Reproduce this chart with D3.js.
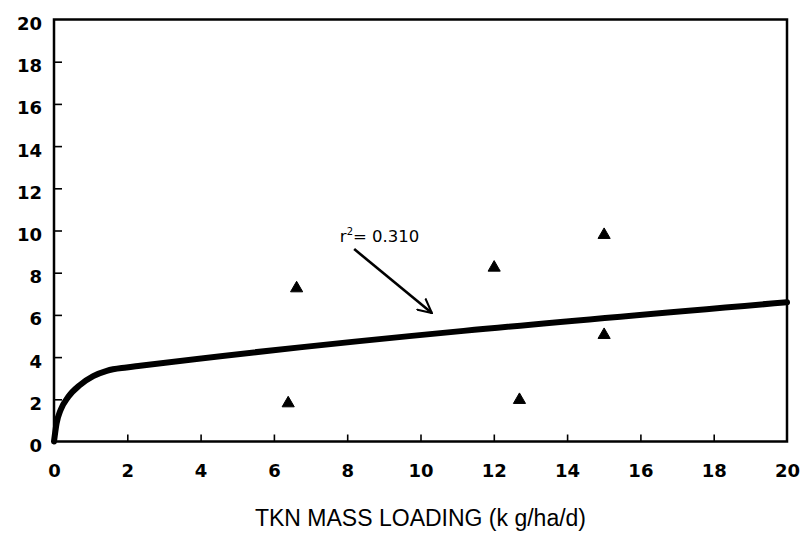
<!DOCTYPE html>
<html>
<head>
<meta charset="utf-8">
<script src="https://cdn.jsdelivr.net/npm/d3@7"></script>
<style>
  html, body { margin: 0; padding: 0; background: #fff; }
  svg { display: block; }
</style>
</head>
<body>
<div id="chart"></div>
<script>
  'use strict';

  // tick values on both axes
  const xTicks = [0, 2, 4, 6, 8, 10, 12, 14, 16, 18, 20];
  const yTicks = [0, 2, 4, 6, 8, 10, 12, 14, 16, 18, 20];

  const pointX = [6.39, 6.62, 12.01, 12.70, 15.01, 15.01];
  const pointY = [1.81, 7.26, 8.24, 1.97, 9.79, 5.05];

  // fitted curve
  const curveX = [0, 0.07, 0.18, 0.39, 0.71, 1.07, 1.44, 1.98, 2.35, 20];
  const curveY = [0, 0.86, 1.49, 2.12, 2.68, 3.10, 3.35, 3.51, 3.59, 6.60];

  // annotation
  const labelPos = [7.80, 9.45];
  const arrowFrom = [8.19, 9.12];
  const arrowTo = [10.31, 6.09];
  const rValue = '0.310';
  const xTitle = 'TKN MASS LOADING (k g/ha/d)';

  const width = 804;
  const height = 533;
  const margin = { top: 19.5, right: 17, bottom: 91.5, left: 54 };
  const innerW = width - margin.left - margin.right;
  const innerH = height - margin.top - margin.bottom;

  const svg = d3.select('#chart')
    .append('svg')
    .attr('width', width)
    .attr('height', height);

  const g = svg.append('g')
    .attr('transform', `translate(${margin.left},${margin.top})`);

  const x = d3.scaleLinear().domain([0, 20]).range([0, innerW]);
  const y = d3.scaleLinear().domain([0, 20]).range([innerH, 0]);

  const tickFont = '"DejaVu Sans", sans-serif';

  // Bottom axis: ticks point inward (up)
  const xAxis = g.append('g')
    .attr('transform', `translate(0,${innerH})`)
    .call(d3.axisBottom(x).tickValues(xTicks).tickSizeInner(-7).tickSizeOuter(0).tickPadding(0));
  xAxis.select('.domain').remove();
  xAxis.selectAll('.tick line')
    .attr('stroke', '#000')
    .attr('stroke-width', 1.6)
    .filter(d => d === 0 || d === 20).remove();
  xAxis.selectAll('.tick text')
    .attr('y', 35.5)
    .attr('dy', 0)
    .attr('font-family', tickFont)
    .attr('font-weight', 'bold')
    .attr('font-size', 18)
    .attr('fill', '#000');

  // Left axis: ticks point inward (right)
  const yAxis = g.append('g')
    .call(d3.axisLeft(y).tickValues(yTicks).tickSizeInner(-8).tickSizeOuter(0).tickPadding(0));
  yAxis.select('.domain').remove();
  yAxis.selectAll('.tick line')
    .attr('stroke', '#000')
    .attr('stroke-width', 1.6)
    .filter(d => d === 0 || d === 20).remove();
  yAxis.selectAll('.tick text')
    .attr('x', -12)
    .attr('dy', '0.55em')
    .attr('font-family', tickFont)
    .attr('font-weight', 'bold')
    .attr('font-size', 18)
    .attr('fill', '#000');

  // Frame
  g.append('rect')
    .attr('width', innerW)
    .attr('height', innerH)
    .attr('fill', 'none')
    .attr('stroke', '#000')
    .attr('stroke-width', 2.5);

  // Fitted curve
  const curveData = curveX.map((v, i) => [v, curveY[i]]);
  g.append('path')
    .datum(curveData)
    .attr('fill', 'none')
    .attr('stroke', '#000')
    .attr('stroke-width', 6)
    .attr('stroke-linecap', 'round')
    .attr('stroke-linejoin', 'round')
    .attr('d', d3.line()
      .x(d => x(d[0]))
      .y(d => y(d[1]))
      .curve(d3.curveMonotoneX));

  // Data points
  const pts = pointX.map((v, i) => [v, pointY[i]]);
  g.append('g')
    .selectAll('path')
    .data(pts)
    .join('path')
    .attr('transform', d => `translate(${x(d[0])},${y(d[1])})`)
    .attr('d', d3.symbol().type(d3.symbolTriangle).size(64))
    .attr('fill', '#000')
    .attr('stroke', '#000')
    .attr('stroke-width', 1)
    .attr('stroke-linejoin', 'round');

  // Arrow marker (open V)
  svg.append('defs').append('marker')
    .attr('id', 'arrow')
    .attr('viewBox', '0 -6 12 12')
    .attr('refX', 11)
    .attr('refY', 0)
    .attr('markerWidth', 6)
    .attr('markerHeight', 6)
    .attr('markerUnits', 'strokeWidth')
    .attr('orient', 'auto')
    .append('path')
    .attr('d', 'M0,-5.5L11,0L0,5.5')
    .attr('fill', 'none')
    .attr('stroke', '#000')
    .attr('stroke-width', 1.6)
    .attr('stroke-linejoin', 'miter');

  g.append('line')
    .attr('x1', x(arrowFrom[0]))
    .attr('y1', y(arrowFrom[1]))
    .attr('x2', x(arrowTo[0]))
    .attr('y2', y(arrowTo[1]))
    .attr('stroke', '#000')
    .attr('stroke-width', 2.6)
    .attr('marker-end', 'url(#arrow)');

  // r² label
  const rLabel = g.append('text')
    .attr('x', x(labelPos[0]))
    .attr('y', y(labelPos[1]))
    .attr('font-family', tickFont)
    .attr('font-size', 16.5)
    .attr('fill', '#000');
  rLabel.append('tspan').text('r');
  rLabel.append('tspan').attr('font-size', 10).attr('dy', -7).text('2');
  rLabel.append('tspan').attr('dy', 7).text('= ' + rValue);

  // X axis title
  svg.append('text')
    .attr('x', margin.left + innerW / 2)
    .attr('y', 526)
    .attr('text-anchor', 'middle')
    .attr('font-family', '"Liberation Sans", Arial, sans-serif')
    .attr('font-size', 23)
    .attr('fill', '#000')
    .text(xTitle);
</script>
</body>
</html>
